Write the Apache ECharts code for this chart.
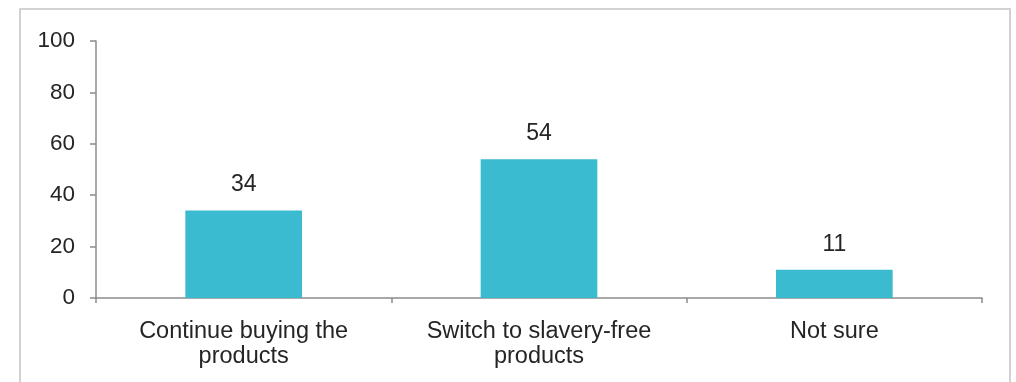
<!DOCTYPE html>
<html>
<head>
<meta charset="utf-8">
<script src="https://cdn.jsdelivr.net/npm/echarts@6/dist/echarts.min.js"></script>
<style>
  html, body { margin: 0; padding: 0; background: #fff; }
  #chart { width: 1016px; height: 382px; }
</style>
</head>
<body>
<div id="chart"></div>
<script>
// Survey answers and their percentages
const categories = ['Continue buying the\nproducts', 'Switch to slavery-free\nproducts', 'Not sure'];
const values = [34, 54, 11];
const yTicks = [0, 20, 40, 60, 80, 100];

const font = '"Liberation Sans", Arial, Helvetica, sans-serif';
const textColor = '#252525';
const axisColor = '#8c8c8c';

const chart = echarts.init(document.getElementById('chart'), null, { renderer: 'canvas' });

chart.setOption({
  animation: false,
  backgroundColor: '#fff',
  graphic: [{
    type: 'rect',
    shape: { x: 20, y: 9, width: 990, height: 400 },
    style: { fill: 'none', stroke: '#d2d2d2', lineWidth: 2 },
    silent: true
  }],
  grid: { left: 96, right: 34, top: 41, bottom: 84, containLabel: false },
  xAxis: {
    type: 'category',
    data: categories,
    axisLine: { show: true, lineStyle: { color: axisColor, width: 1.5 } },
    axisTick: { show: true, alignWithLabel: false, length: 5, lineStyle: { color: axisColor, width: 1.5 } },
    axisLabel: {
      color: textColor, fontFamily: font, fontSize: 23.5, lineHeight: 25, margin: 21, interval: 0
    },
    splitLine: { show: false }
  },
  yAxis: {
    type: 'value',
    min: yTicks[0],
    max: yTicks[yTicks.length - 1],
    interval: yTicks[1] - yTicks[0],
    axisLine: { show: true, lineStyle: { color: axisColor, width: 1.5 } },
    axisTick: { show: true, length: 6, lineStyle: { color: axisColor, width: 1.5 } },
    axisLabel: { color: textColor, fontFamily: font, fontSize: 22.5, margin: 21 },
    splitLine: { show: false }
  },
  series: [{
    type: 'bar',
    data: values,
    barWidth: '39.5%',
    itemStyle: { color: '#3bbbcf' },
    label: {
      show: true, position: 'top', distance: 14,
      color: textColor, fontFamily: font, fontSize: 23
    }
  }]
});
</script>
</body>
</html>
